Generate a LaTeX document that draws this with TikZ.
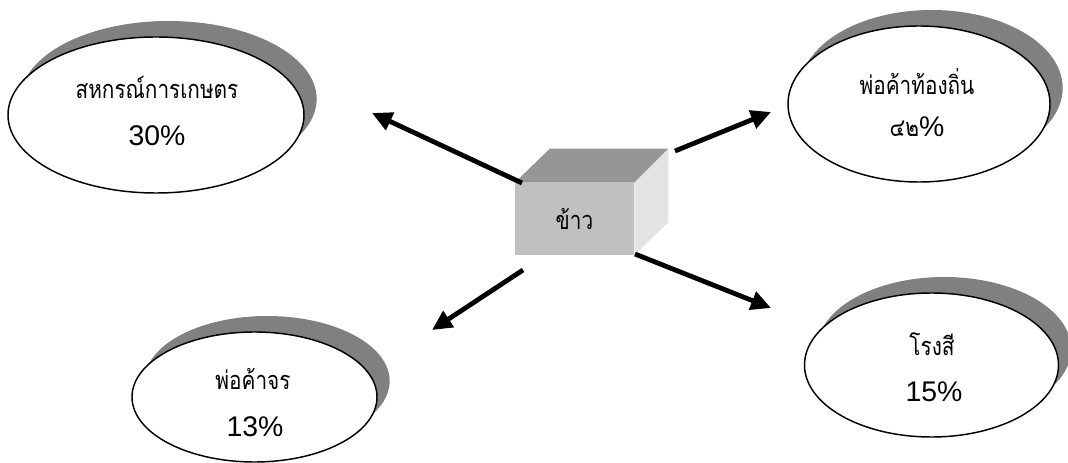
\documentclass[tikz,border=0pt]{standalone}
\usepackage{fontspec}
\setmainfont{Liberation Sans}
\newfontfamily\thaifont[Script=Thai,FakeStretch=0.82]{Loma}
\usetikzlibrary{arrows.meta,shapes.geometric,shadows}
\definecolor{shadowgray}{HTML}{808080}
\definecolor{frontgray}{HTML}{C0C0C0}
\definecolor{topgray}{HTML}{969696}
\definecolor{sidegray}{HTML}{E3E3E3}
\tikzset{
  bubble/.style={ellipse, draw=black, line width=1.1pt, fill=white, inner sep=0pt,
    drop shadow={shadow xshift=9.5pt, shadow yshift=12pt, fill=shadowgray, opacity=1}},
  thai/.style={font=\thaifont\fontsize{19}{23}\selectfont, inner sep=0pt},
  num/.style={font=\fontsize{21.3}{25}\selectfont, inner sep=0pt},
  flow/.style={line width=3.6pt, -{Triangle[length=15pt,width=14pt]}},
  frontface/.style={rectangle, fill=frontgray, inner sep=0pt, minimum width=89.25pt, minimum height=54pt,
    font=\thaifont\fontsize{19}{23}\selectfont},
}
\begin{document}
\begin{tikzpicture}[x=0.75pt,y=-0.75pt]
\useasboundingbox (0,0) rectangle (1068,463);
% ellipses
\node[bubble, minimum width=222pt, minimum height=117pt] (e1) at (156,115) {};
\node[bubble, minimum width=196.5pt, minimum height=117pt] (e2) at (919,104) {};
\node[bubble, minimum width=183.75pt, minimum height=97.5pt] (e3) at (254.5,397) {};
\node[bubble, minimum width=190.5pt, minimum height=108pt] (e4) at (931.5,365) {};
% texts
\node[thai] (t1a) at (157,87) {สหกรณ์การเกษตร};
\node[num] (t1b) at (157,136) {30\%};
\node[thai] (t2a) at (917,82) {พ่อค้าท้องถิ่น};
\node[thai] (t2b) at (917,127) {๔๒{\fontsize{21.3}{25}\selectfont\rmfamily\%}};
\node[thai] (t3a) at (253,379) {พ่อค้าจร};
\node[num] (t3b) at (255,427) {13\%};
\node[thai] (t4a) at (932,344) {โรงสี};
\node[num] (t4b) at (934,392) {15\%};
% box
\node[frontface] (box) at (574.5,219) {};
\fill[topgray] (box.north west) -- ([shift={(35,-34)}]box.north west) -- ([shift={(34,-34)}]box.north east) -- (box.north east) -- cycle;
\fill[sidegray] (box.north east) -- ([shift={(34,-34)}]box.north east) -- ([shift={(34,-33)}]box.south east) -- (box.south east) -- cycle;
\node[frontface, fill=none] (boxlabel) at (box.center) {ข้าว};
% arrows
\coordinate (a1s) at (522,183); \coordinate (a1e) at (372,113);
\coordinate (a2s) at (675,151); \coordinate (a2e) at (771,112);
\coordinate (a3s) at (523,270); \coordinate (a3e) at (432,330);
\coordinate (a4s) at (635,254); \coordinate (a4e) at (771,308);
\draw[flow] (a1s) -- (a1e);
\draw[flow] (a2s) -- (a2e);
\draw[flow] (a3s) -- (a3e);
\draw[flow] (a4s) -- (a4e);
\end{tikzpicture}
\end{document}
